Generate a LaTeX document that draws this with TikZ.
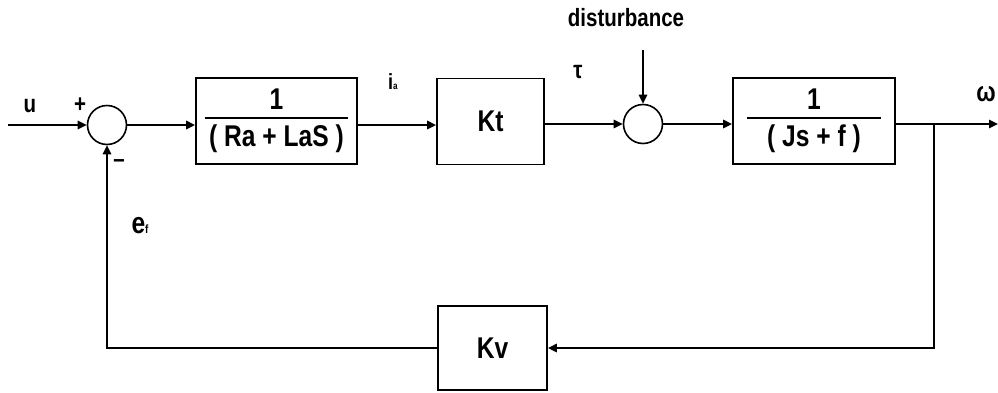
\documentclass[tikz,border=0pt]{standalone}
\usepackage{fontspec}
\setmainfont{Liberation Sans}[FakeStretch=0.82]
\usetikzlibrary{arrows.meta, positioning}

\newcommand{\blockfrac}[3]{\vbox{\hbox to #3{\hss #1\hss}\kern3.5pt\hrule height 0.9pt\kern3pt\hbox to #3{\hss #2\hss}}}

\begin{document}
\begin{tikzpicture}[x=0.5pt, y=-0.5pt,
    blk/.style={rectangle, draw, line width=0.9pt, minimum height=43pt, inner sep=0pt, font=\fontsize{15}{18}\selectfont\bfseries},
    sum/.style={circle, draw, line width=0.8pt, minimum size=19.5pt, inner sep=0pt},
    lbl/.style={font=\fontsize{12.5}{14}\selectfont\bfseries, inner sep=0pt},
    arr/.style={-{Triangle[length=4.5pt, width=4.2pt]}, line width=0.9pt},
]
    \useasboundingbox (0,0) rectangle (998,392);

    % Forward path
    \coordinate (in) at (8,125);
    \node[sum] (s1) at (107,125) {};
    \node[blk, minimum width=80.5pt] (ra) at (276.5,121) {\blockfrac{1}{( Ra + LaS )}{72pt}};
    \node[blk, minimum width=53.5pt] (kt) at (490.5,121.5) {Kt};
    \node[sum] (s2) at (643,124) {};
    \node[blk, minimum width=81pt] (js) at (814,121) {\blockfrac{1}{( Js + f )}{67pt}};
    \coordinate (br) at (934,124);
    \coordinate (out) at (998,124);
    \coordinate (dist) at (643,50);

    % Feedback block
    \node[blk, minimum width=54.5pt, minimum height=42pt] (kv) at (492.5,348) {Kv};

    % Signal labels
    \node[lbl] (ulbl) at (30,106) {u};
    \node[lbl] (plus) at (80,105) {+};
    \node[lbl] (minus) at (119,164) {–};
    \node[lbl, font=\fontsize{11}{13}\selectfont\bfseries] (ia) at (393,82) {i{\fontsize{5}{5}\selectfont a}};
    \node[lbl] (tau) at (578,72) {τ};
    \node[lbl] (dlbl) at (626,18) {disturbance};
    \node[lbl, font=\fontsize{14}{16}\selectfont\bfseries] (omega) at (986,94) {ω};
    \node[lbl, font=\fontsize{15}{17}\selectfont\bfseries] (ef) at (140,226) {e{\fontsize{6}{6}\selectfont f}};

    % Arrows along the forward path
    \draw[arr] (in) -- (s1);
    \draw[arr] (s1) -- (s1 -| ra.west);
    \draw[arr] (ra.east |- s1) -- (s1 -| kt.west);
    \draw[arr] (kt.east |- s2) -- (s2);
    \draw[arr] (dist) -- (s2);
    \draw[arr] (s2) -- (s2 -| js.west);
    \draw[arr] (js.east |- br) -- (out);

    % Feedback loop
    \draw[arr] (br) |- (kv);
    \draw[arr] (kv) -| (s1);
\end{tikzpicture}
\end{document}
